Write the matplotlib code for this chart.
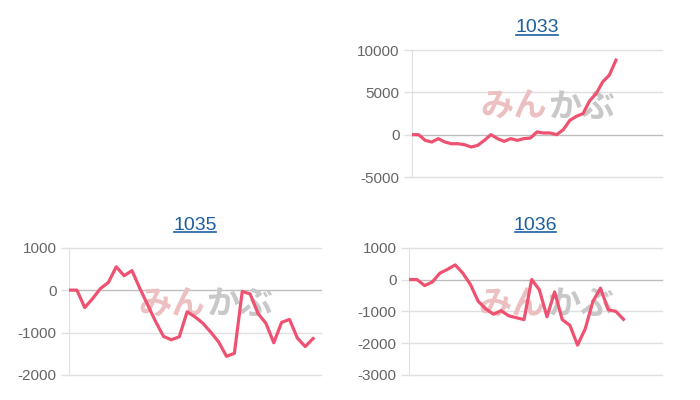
import numpy as np
import matplotlib
matplotlib.use('Agg')
import matplotlib.pyplot as plt
from matplotlib.lines import Line2D

plt.rcParams['font.family'] = ['Liberation Sans', 'DejaVu Sans']
plt.rcParams['axes.unicode_minus'] = False

# values
values_1033 = [0, 0, -670, -870, -470, -870, -1070, -1070, -1190, -1460, -1260, -670,
               0, -470, -790, -470, -670, -470, -400, 320, 200, 200, 0, 590,
               1700, 2170, 2490, 4000, 4860, 6250, 7040, 8800]
values_1035 = [0, 0, -410, -200, 40, 180, 550, 340, 460, 40, -350, -740,
               -1090, -1170, -1100, -510, -630, -780, -990, -1220, -1560, -1490,
               -30, -90, -550, -780, -1240, -760, -690, -1130, -1330, -1140]
values_1036 = [0, 0, -190, -80, 200, 320, 460, 200, -160, -680, -920, -1090,
               -980, -1140, -1200, -1260, 0, -320, -1170, -390, -1260, -1440,
               -2060, -1550, -690, -270, -950, -1000, -1250]

ticks_1033 = [-5000, 0, 5000, 10000]
ticks_1035 = [-2000, -1000, 0, 1000]
ticks_1036 = [-3000, -2000, -1000, 0, 1000]

LINE_COLOR = '#ee5270'
GRID_COLOR = '#e0e0e0'
ZERO_COLOR = '#bdbdbd'
TITLE_COLOR = '#1d5f9e'


def draw_panel(fig, rect, title, values, n_slots, ticks):
    ax = fig.add_axes(rect)
    for y in ticks:
        ax.axhline(y, color=ZERO_COLOR if y == 0 else GRID_COLOR, lw=1, zorder=0,
                   clip_on=False)

    # watermark
    ax.text(0.54, 0.55, 'みん', transform=ax.transAxes, ha='right', va='center',
            fontsize=24, fontweight='bold', color='#ecbfc1',
            family=['Noto Sans CJK JP'], zorder=1)
    ax.text(0.545, 0.55, 'かぶ', transform=ax.transAxes, ha='left', va='center',
            fontsize=24, fontweight='bold', color='#c8c8c8',
            family=['Noto Sans CJK JP'], zorder=1)

    ax.plot(np.arange(len(values)), values, color=LINE_COLOR, lw=2.3,
            solid_joinstyle='round', zorder=3)
    ax.set_xlim(0, n_slots)
    ax.set_ylim(ticks[0], ticks[-1])
    ax.set_yticks(ticks)
    ax.set_xticks([])
    for side in ['top', 'right', 'bottom']:
        ax.spines[side].set_visible(False)
    ax.spines['left'].set_color(GRID_COLOR)
    ax.tick_params(axis='y', length=6, width=1, color=GRID_COLOR,
                   labelcolor='#666666', labelsize=11, pad=3)

    # title with underline
    pos = ax.get_position()
    cx = (pos.x0 + pos.x1) / 2
    t = fig.text(cx, pos.y1 + 0.055, title, ha='center', va='center',
                 fontsize=14, color=TITLE_COLOR)
    return ax, t


fig = plt.figure(figsize=(7, 4), dpi=100)

panels = [
    ([412 / 700, 1 - 177 / 400, 250 / 700, 127 / 400], '1033', values_1033, 38, ticks_1033),
    ([69 / 700, 1 - 375 / 400, 252 / 700, 127.3 / 400], '1035', values_1035, 32, ticks_1035),
    ([409.3 / 700, 1 - 375 / 400, 252.4 / 700, 127.3 / 400], '1036', values_1036, 33, ticks_1036),
]

titles = []
for rect, title, vals, n_slots, ticks in panels:
    ax, t = draw_panel(fig, rect, title, vals, n_slots, ticks)
    titles.append(t)

fig.canvas.draw()
renderer = fig.canvas.get_renderer()
W, H = fig.bbox.width, fig.bbox.height
for t in titles:
    bb = t.get_window_extent(renderer)
    y = (bb.y0 + 2) / H
    fig.add_artist(Line2D([(bb.x0 + 1) / W, (bb.x1 - 1) / W], [y, y],
                          transform=fig.transFigure, color=TITLE_COLOR, lw=1.2))

fig.savefig('out.png', dpi=100)
